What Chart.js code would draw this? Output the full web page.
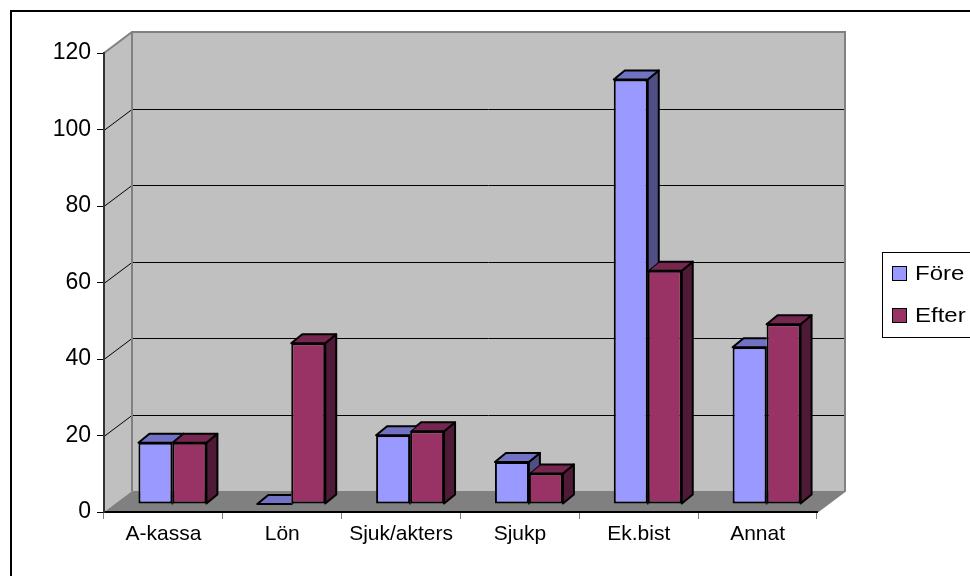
<!DOCTYPE html>
<html>
<head>
<meta charset="utf-8">
<script src="https://cdn.jsdelivr.net/npm/chart.js@4.4.1/dist/chart.umd.min.js"></script>
<style>
  html, body { margin: 0; padding: 0; background: #fff; }
  #wrap { width: 970px; height: 576px; }
</style>
</head>
<body>
<div id="wrap"><canvas id="chart" width="970" height="576"></canvas></div>
<script>
// data
const categories = ['A-kassa', 'Lön', 'Sjuk/akters', 'Sjukp', 'Ek.bist', 'Annat'];
const foreValues = [16, 0, 18, 11, 111, 41];
const efterValues = [16, 42, 19, 8, 61, 47];
const yMin = 0, yMax = 120, yStep = 20;

// 3D look: depth of the walls and of the bars
const WALL_DX = 28, WALL_DY = 21;
const SHIFT_X = 9, SHIFT_Y = 8;   // bars stand a bit behind the front edge
const BAR_DX = 11, BAR_DY = 9;

const FONT = "'Liberation Sans', Arial, sans-serif";

function poly(ctx, pts) {
    ctx.beginPath();
    addPoly(ctx, pts);
}

function addPoly(ctx, pts) {
    ctx.moveTo(pts[0][0], pts[0][1]);
    for (let i = 1; i < pts.length; i++) ctx.lineTo(pts[i][0], pts[i][1]);
    ctx.closePath();
}

function barBox(bar) {
    const { x, y, base, width } = bar.getProps(['x', 'y', 'base', 'width'], true);
    return { l: x - width / 2, r: x + width / 2, y, base };
}

// walls, floor and the grid lines on the back wall
const walls = {
    id: 'walls',
    beforeDraw(chart) {
        const { ctx, chartArea: a, scales: { y } } = chart;
        ctx.save();
        ctx.fillStyle = '#c0c0c0';
        poly(ctx, [[a.left, a.top], [a.left + WALL_DX, a.top - WALL_DY],
                   [a.left + WALL_DX, a.bottom - WALL_DY], [a.left, a.bottom]]);
        ctx.fill();
        ctx.fillRect(a.left + WALL_DX, a.top - WALL_DY, a.right - a.left, a.bottom - a.top);

        ctx.fillStyle = '#808080';
        poly(ctx, [[a.left, a.bottom], [a.right, a.bottom],
                   [a.right + WALL_DX, a.bottom - WALL_DY], [a.left + WALL_DX, a.bottom - WALL_DY]]);
        ctx.fill();

        ctx.strokeStyle = '#000';
        ctx.lineWidth = 1;
        y.ticks.forEach(t => {
            if (t.value === y.min || t.value === y.max) return;
            const py = Math.round(y.getPixelForValue(t.value)) + 0.5;
            ctx.beginPath();
            ctx.moveTo(a.left, py);
            ctx.lineTo(a.left + WALL_DX, py - WALL_DY);
            ctx.lineTo(a.right + WALL_DX, py - WALL_DY);
            ctx.stroke();
        });

        // wall edges
        ctx.strokeStyle = '#808080';
        ctx.lineWidth = 2;
        ctx.beginPath();
        ctx.moveTo(a.left, a.top);
        ctx.lineTo(a.left + WALL_DX, a.top - WALL_DY);
        ctx.lineTo(a.right + WALL_DX, a.top - WALL_DY);
        ctx.lineTo(a.right + WALL_DX, a.bottom - WALL_DY);
        ctx.lineTo(a.right, a.bottom);
        ctx.moveTo(a.left + WALL_DX, a.top - WALL_DY);
        ctx.lineTo(a.left + WALL_DX, a.bottom - WALL_DY);
        ctx.stroke();
        ctx.restore();
    },
    afterDraw(chart) {
        // frame round the whole chart
        const ctx = chart.ctx;
        ctx.save();
        ctx.strokeStyle = '#000';
        ctx.lineWidth = 2;
        ctx.strokeRect(11, 11, 1200, 1200);
        ctx.restore();
    }
};

// top and side faces of each bar, front face is drawn by Chart.js
// Chart.js paints the first dataset last, so faces of the left bar are
// clipped against the bar standing to its right.
const bars3d = {
    id: 'bars3d',
    beforeDatasetDraw(chart, args) {
        const ctx = chart.ctx;
        const ds = chart.data.datasets[args.index];
        const next = args.index + 1 < chart.data.datasets.length ? chart.getDatasetMeta(args.index + 1) : null;
        ctx.save();
        ctx.translate(SHIFT_X, -SHIFT_Y);
        ctx.lineWidth = 2;
        ctx.strokeStyle = '#000';
        ctx.lineJoin = 'round';
        args.meta.data.forEach((bar, j) => {
            const { l, r, y, base } = barBox(bar);
            ctx.save();
            if (next && next.data[j]) {
                const n = barBox(next.data[j]);
                ctx.beginPath();
                ctx.rect(-5000, -5000, 10000, 10000);
                addPoly(ctx, [[n.l, n.base], [n.l, n.y], [n.l + BAR_DX, n.y - BAR_DY],
                              [n.r + BAR_DX, n.y - BAR_DY], [n.r + BAR_DX, n.base - BAR_DY], [n.r, n.base]]);
                ctx.clip('evenodd');
            }
            ctx.fillStyle = ds.sideColor;
            poly(ctx, [[r, y], [r + BAR_DX, y - BAR_DY], [r + BAR_DX, base - BAR_DY], [r, base]]);
            ctx.fill();
            ctx.stroke();
            ctx.fillStyle = ds.topColor;
            poly(ctx, [[l, y], [l + BAR_DX, y - BAR_DY], [r + BAR_DX, y - BAR_DY], [r, y]]);
            ctx.fill();
            ctx.stroke();
            ctx.restore();
        });
    },
    afterDatasetDraw(chart) {
        chart.ctx.restore();
    }
};

// legend box on the right
const legendBox = {
    id: 'legendBox',
    afterDraw(chart) {
        const ctx = chart.ctx;
        ctx.save();
        ctx.strokeStyle = '#000';
        ctx.lineWidth = 1;
        ctx.strokeRect(882.5, 252.5, 200, 85);
        const rows = [273, 315];
        chart.data.datasets.forEach((ds, i) => {
            const cy = rows[i];
            ctx.fillStyle = ds.backgroundColor;
            ctx.fillRect(892, cy - 7, 15, 15);
            ctx.strokeRect(892.5, cy - 6.5, 14, 14);
            ctx.save();
            ctx.translate(915, cy + 1);
            ctx.scale(1.2, 1);
            ctx.fillStyle = '#000';
            ctx.font = '20px ' + FONT;
            ctx.textBaseline = 'middle';
            ctx.fillText(ds.label, 0, 0);
            ctx.restore();
        });
        ctx.restore();
    }
};

new Chart(document.getElementById('chart'), {
    type: 'bar',
    data: {
        labels: categories,
        datasets: [{
            label: 'Före',
            data: foreValues,
            backgroundColor: '#9999ff',
            topColor: '#7272c4',
            sideColor: '#4f4f86',
            borderColor: '#000',
            borderWidth: 2,
            borderSkipped: false,
            categoryPercentage: 0.572,
            barPercentage: 1,
            clip: false
        }, {
            label: 'Efter',
            data: efterValues,
            backgroundColor: '#993366',
            topColor: '#752750',
            sideColor: '#4e1a35',
            borderColor: '#000',
            borderWidth: 2,
            borderSkipped: false,
            categoryPercentage: 0.572,
            barPercentage: 1,
            clip: false
        }]
    },
    options: {
        responsive: false,
        devicePixelRatio: 1,
        animation: false,
        layout: { padding: { left: 0, right: 153, top: 53, bottom: 0 } },
        plugins: {
            legend: { display: false },
            tooltip: { enabled: false }
        },
        scales: {
            x: {
                afterFit(scale) { scale.height = 64; },
                grid: { drawOnChartArea: false, drawTicks: true, tickLength: 7, color: '#808080', offset: true },
                border: { display: true, color: '#000', width: 2 },
                ticks: { color: '#000', padding: 3, font: { size: 21, family: FONT }, maxRotation: 0 }
            },
            y: {
                min: yMin,
                max: yMax,
                afterFit(scale) { scale.width = 104; },
                grid: { drawOnChartArea: false, drawTicks: true, tickLength: 7, color: '#000' },
                border: { display: true, color: '#333', width: 2 },
                ticks: { stepSize: yStep, color: '#000', padding: 6, font: { size: 23, family: FONT } }
            }
        }
    },
    plugins: [walls, bars3d, legendBox]
});
</script>
</body>
</html>
